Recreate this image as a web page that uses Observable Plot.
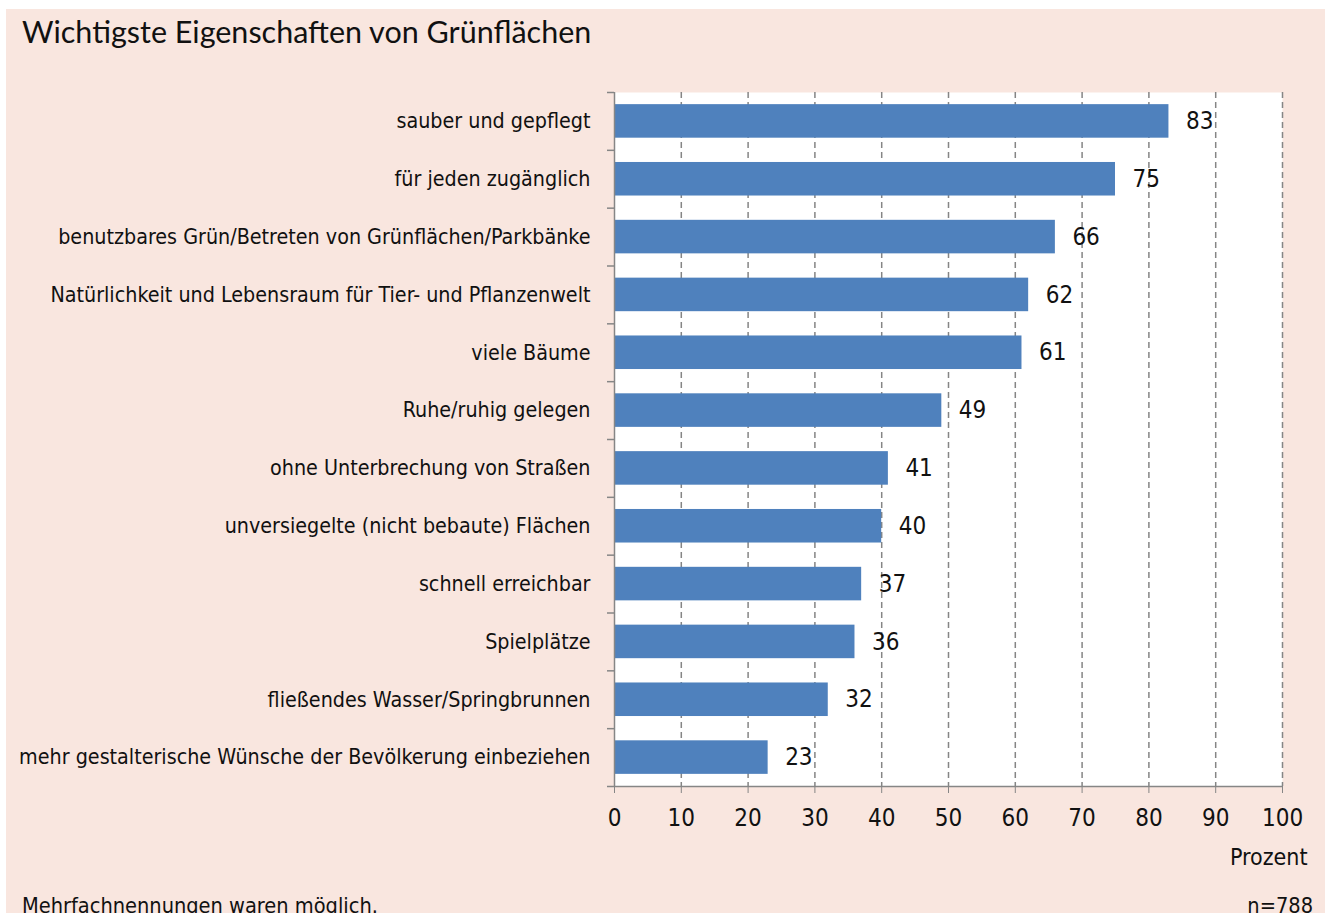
<!DOCTYPE html>
<html>
<head>
<meta charset="utf-8">
<script src="https://cdn.jsdelivr.net/npm/d3@7"></script>
<script src="https://cdn.jsdelivr.net/npm/@observablehq/plot@0.6"></script>
<style>
  html, body { margin: 0; padding: 0; background: #ffffff; width: 1325px; height: 913px; overflow: hidden; }
  #panel { position: absolute; left: 6px; top: 9px; width: 1319px; height: 920px; background: #f9e6df; }
  #title { position: absolute; left: 16px; top: 4px; font-family: "Lato", "Liberation Sans", sans-serif; font-size: 30.5px; color: #111; white-space: nowrap; }
  #chart { position: absolute; left: 0; top: 51px; }
  .foot { position: absolute; top: 884px; font-family: "DejaVu Sans Condensed", sans-serif; font-size: 21.6px; color: #111; white-space: nowrap; }
  #foot-left { left: 16px; }
  #foot-right { right: 12px; }
</style>
</head>
<body>
<div id="panel">
  <div id="title">Wichtigste Eigenschaften von Grünflächen</div>
  <div id="chart"></div>
  <div class="foot" id="foot-left">Mehrfachnennungen waren möglich.</div>
  <div class="foot" id="foot-right">n=788</div>
</div>
<script>
const categories = [
  "sauber und gepflegt",
  "für jeden zugänglich",
  "benutzbares Grün/Betreten von Grünflächen/Parkbänke",
  "Natürlichkeit und Lebensraum für Tier- und Pflanzenwelt",
  "viele Bäume",
  "Ruhe/ruhig gelegen",
  "ohne Unterbrechung von Straßen",
  "unversiegelte (nicht bebaute) Flächen",
  "schnell erreichbar",
  "Spielplätze",
  "fließendes Wasser/Springbrunnen",
  "mehr gestalterische Wünsche der Bevölkerung einbeziehen"
];
const values = [83, 75, 66, 62, 61, 49, 41, 40, 37, 36, 32, 23];
const xTicks = [0, 10, 20, 30, 40, 50, 60, 70, 80, 90, 100];
const gridTicks = [10, 20, 30, 40, 50, 60, 70, 80, 90, 100];
const axisLabel = ["Prozent"];

const data = categories.map((c, i) => ({category: c, value: values[i]}));

const W = 1319, H = 820, mL = 608, mR = 43, mT = 32, mB = 94;
const plotW = W - mL - mR;
const step = (H - mT - mB) / categories.length;
const axisColor = "#868686";
const font = "'DejaVu Sans Condensed', sans-serif";

const chart = Plot.plot({
  width: W, height: H,
  marginLeft: mL, marginRight: mR, marginTop: mT, marginBottom: mB,
  style: {background: "transparent", fontFamily: font, fontSize: "24px", color: "#111"},
  x: {domain: [0, 100]},
  y: {domain: categories, paddingInner: 0.42, paddingOuter: 0.21, round: false},
  marks: [
    Plot.frame({fill: "white", stroke: null}),
    Plot.ruleX(gridTicks, {stroke: "#858585", strokeWidth: 1.5, strokeDasharray: "6,4"}),
    Plot.barX(data, {x: "value", y: "category", fill: "#4f81bd"}),
    Plot.ruleX([0], {stroke: axisColor, strokeWidth: 1.5}),
    Plot.ruleY(categories, {y: d => d, dy: -step / 2, dx: -7, insetRight: plotW - 7, stroke: axisColor, strokeWidth: 1.5}),
    Plot.ruleY([categories[categories.length - 1]], {y: d => d, dy: step / 2, insetLeft: -7, stroke: axisColor, strokeWidth: 1.5}),
    Plot.axisX({ticks: xTicks, tickSize: 7, tickPadding: 15, stroke: axisColor, label: null, fontSize: 24}),
    Plot.axisY({tickSize: 0, tickPadding: 24, label: null, fontSize: 21.3}),
    Plot.text(data, {x: "value", y: "category", text: d => String(d.value), dx: 17, textAnchor: "start", fontSize: 24}),
    Plot.text(axisLabel, {frameAnchor: "bottom-right", text: d => d, dx: 25, dy: 78, textAnchor: "end", fontSize: 23})
  ]
});
document.getElementById("chart").appendChild(chart);
</script>
</body>
</html>
